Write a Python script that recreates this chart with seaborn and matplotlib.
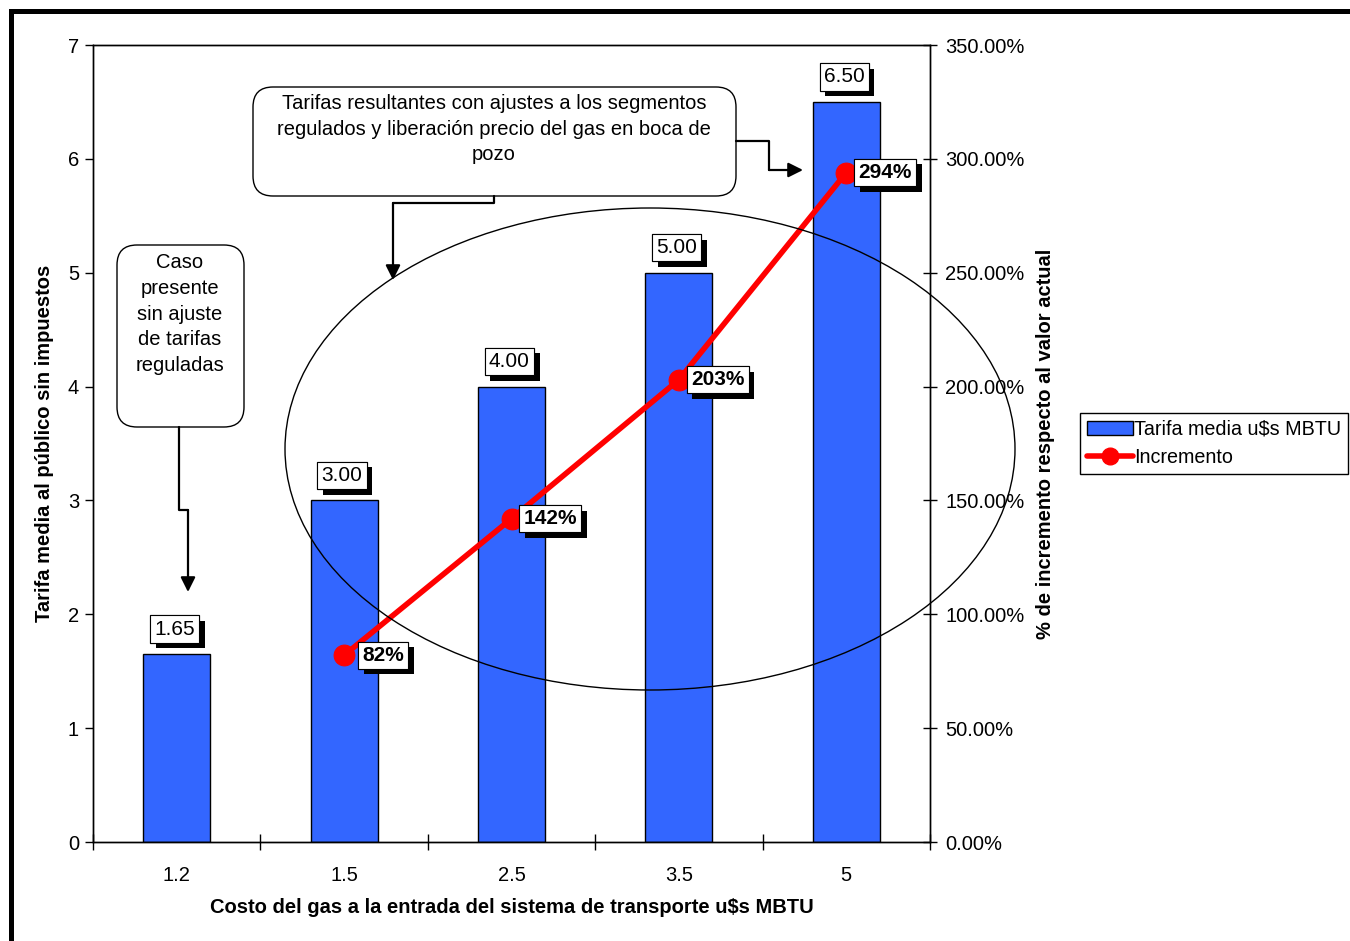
import numpy as np
import pandas as pd
import seaborn as sns
import matplotlib.pyplot as plt
import matplotlib.patheffects as pe
from matplotlib.patches import Ellipse, FancyBboxPatch, FancyArrowPatch, Rectangle, Patch
from matplotlib.lines import Line2D
from matplotlib.ticker import FuncFormatter, MultipleLocator

# data
costo = ["1.2", "1.5", "2.5", "3.5", "5"]
tarifa = [1.65, 3.00, 4.00, 5.00, 6.50]
incr_costo = ["1.5", "2.5", "3.5", "5"]
incremento = [82, 142, 203, 294]

sns.set_theme(style="white")
plt.rcParams["font.family"] = ["Liberation Sans", "DejaVu Sans"]
plt.rcParams.update({"axes.edgecolor": "black", "text.color": "black",
                     "axes.labelcolor": "black", "xtick.color": "black",
                     "ytick.color": "black"})
FS = 14.5

W, H = 1350, 941
fig = plt.figure(figsize=(W / 100, H / 100), dpi=100)
ax = fig.add_axes([93 / W, (H - 842) / H, 837 / W, 797 / H])

df = pd.DataFrame({"costo": costo, "tarifa": tarifa})
sns.barplot(data=df, x="costo", y="tarifa", order=costo, color="#3366ff",
            saturation=1, width=0.4, edgecolor="black", linewidth=1, ax=ax)
ax.set_ylim(0, 7)
ax.set_xlim(-0.5, 4.5)

ax2 = ax.twinx()
xpos = [costo.index(c) for c in incr_costo]
sns.lineplot(x=xpos, y=incremento, ax=ax2, color="red", linewidth=4,
             marker="o", markersize=15, markeredgecolor="red")
ax2.set_ylim(0, 350)
ax2.set_xlim(-0.5, 4.5)

# ticks
ax.set_xticks(np.arange(-0.5, 5, 1))
ax.set_xticklabels([])
ax.set_xticks(range(5), minor=True)
ax.set_xticklabels(costo, minor=True)
ax.tick_params(axis="x", which="major", direction="inout", length=12, width=1,
               bottom=True)
ax.tick_params(axis="x", which="minor", length=0, pad=17, labelsize=FS)
ax.yaxis.set_major_locator(MultipleLocator(1))
ax.tick_params(axis="y", direction="out", length=6, width=1, left=True,
               labelsize=FS, pad=4)
ax2.yaxis.set_major_locator(MultipleLocator(50))
ax2.yaxis.set_major_formatter(FuncFormatter(lambda v, p: f"{v:.2f}%"))
ax2.tick_params(axis="y", direction="inout", length=10, width=1, right=True,
                labelsize=FS, pad=6)
for a in (ax, ax2):
    for s in a.spines.values():
        s.set_color("black")
        s.set_linewidth(1)

ax.set_xlabel("Costo del gas a la entrada del sistema de transporte u$s MBTU",
              fontsize=FS, fontweight="bold")
ax.xaxis.set_label_coords(0.5, -0.0703)
ax.set_ylabel("Tarifa media al público sin impuestos", fontsize=FS, fontweight="bold")
ax.yaxis.set_label_coords(-0.0466, 0.5)
ax2.set_ylabel("% de incremento respecto al valor actual", fontsize=FS,
               fontweight="bold", rotation=90)
ax2.yaxis.set_label_coords(1.1267, 0.5)


def shadow_label(a, x, y, text, dx, dy, bold=False):
    t = a.annotate(text, (x, y), xytext=(dx, dy), textcoords="offset points",
                   ha="center", va="center", fontsize=15,
                   fontweight="bold" if bold else "normal", annotation_clip=False,
                   bbox=dict(boxstyle="square,pad=0.2", fc="white", ec="black", lw=0.8))
    t.get_bbox_patch().set_path_effects(
        [pe.withSimplePatchShadow(offset=(4, -4), shadow_rgbFace="black", alpha=1),
         pe.Normal()])


for i, v in enumerate(tarifa):
    shadow_label(ax, i, v, f"{v:.2f}", -1.5, 18)
for x, v in zip(xpos, incremento):
    shadow_label(ax2, x, v, f"{v}%", 28, 0, bold=True)

# legend
handles = [Patch(fc="#3366ff", ec="black", lw=1),
           Line2D([], [], color="red", lw=4, marker="o", markersize=12)]
leg = fig.legend(handles, ["Tarifa media u$s MBTU", "Incremento"], loc="upper left",
                 bbox_to_anchor=(1080 / W, 1 - 413 / H), frameon=True, fancybox=False,
                 edgecolor="black", framealpha=1, fontsize=14.2, handlelength=2.35,
                 borderpad=0.35, labelspacing=0.45, handletextpad=0.05, borderaxespad=0)
leg.get_frame().set_linewidth(1)


# drawing objects (positions in pixels from the top-left corner)
def P(x, y):
    return (x / 100, (H - y) / 100)


tr = fig.dpi_scale_trans
fig.add_artist(Ellipse(P(650, 449), 7.30, 4.82, transform=tr, fill=False,
                       ec="black", lw=1))

for x0, y0, x1, y1 in [(253, 87, 736, 196), (117, 245, 244, 427)]:
    fig.add_artist(FancyBboxPatch(P(x0, y1), (x1 - x0) / 100, (y1 - y0) / 100,
                                  boxstyle="round,pad=0,rounding_size=0.2",
                                  transform=tr, fc="white", ec="black", lw=1))

fig.text(*P(494, 94), "Tarifas resultantes con ajustes a los segmentos\n"
         "regulados y liberación precio del gas en boca de\npozo",
         transform=tr, ha="center", va="top", multialignment="center",
         fontsize=FS, linespacing=1.45)
fig.text(*P(180, 253), "Caso\npresente\nsin ajuste\nde tarifas\nreguladas",
         transform=tr, ha="center", va="top", multialignment="center",
         fontsize=FS, linespacing=1.45)

connectors = [
    [(494, 196), (494, 203), (393, 203), (393, 280)],
    [(736, 141), (769, 141), (769, 170), (803, 170)],
    [(179, 427), (179, 510), (188, 510), (188, 592)],
]
for pts in connectors:
    xs = [P(*p)[0] for p in pts[:-1]]
    ys = [P(*p)[1] for p in pts[:-1]]
    fig.add_artist(Line2D(xs, ys, transform=tr, color="black", lw=1.6))
    fig.add_artist(FancyArrowPatch(P(*pts[-2]), P(*pts[-1]), transform=tr,
                                   arrowstyle="-|>", mutation_scale=22, lw=1.6,
                                   color="black", shrinkA=0, shrinkB=0))

# outer frame
fig.add_artist(Rectangle(P(10.5, 1100), 20, (1100 - 10.5) / 100, transform=tr,
                         fill=False, ec="black", lw=3.6, clip_on=False))

fig.savefig("out.png", dpi=100)
